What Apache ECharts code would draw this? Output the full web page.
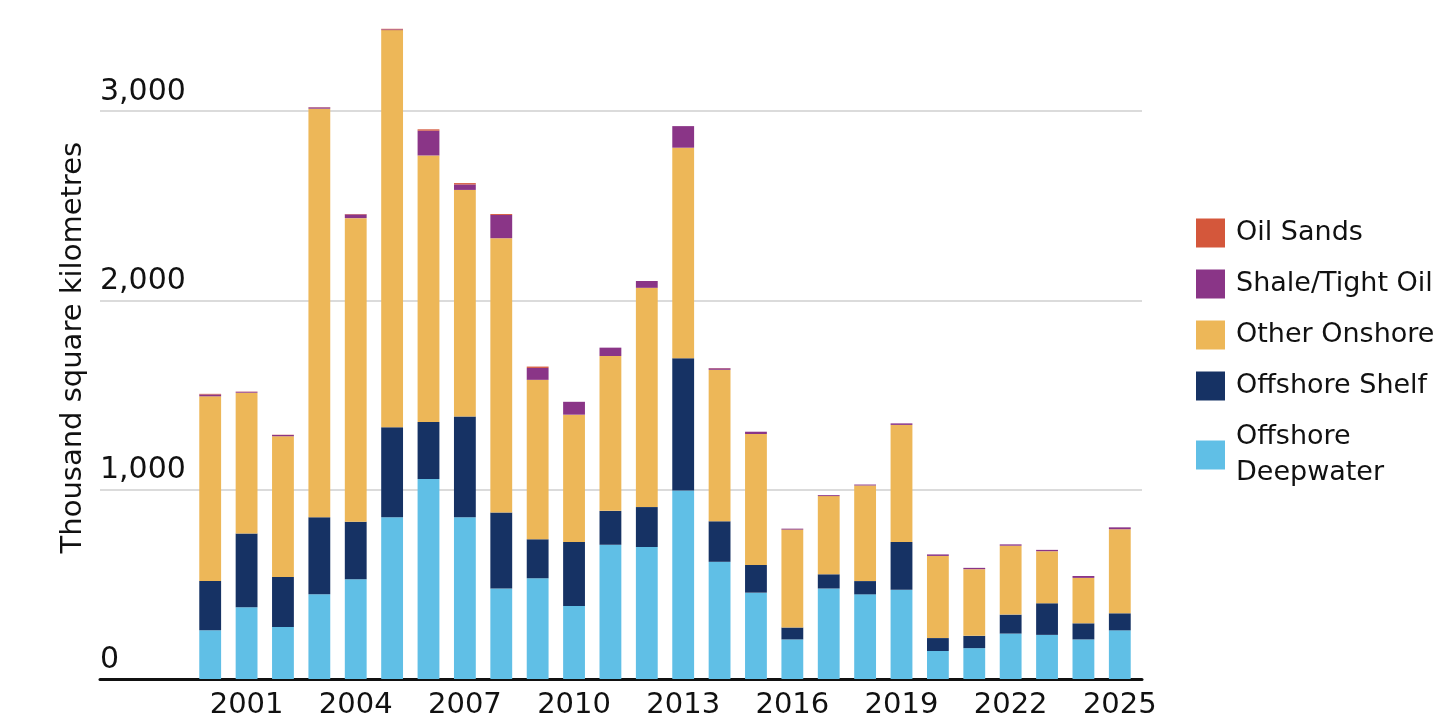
<!DOCTYPE html>
<html>
<head>
<meta charset="utf-8">
<script src="https://cdn.jsdelivr.net/npm/echarts@6/dist/echarts.min.js"></script>
<style>
html,body{margin:0;padding:0;background:#fff;}
#chart{width:1456px;height:728px;}
</style>
</head>
<body>
<div id="chart"></div>
<script>
const years = ['2000','2001','2002','2003','2004','2005','2006','2007','2008','2009','2010','2011','2012','2013','2014','2015','2016','2017','2018','2019','2020','2021','2022','2023','2024','2025'];
const offshoreDeepwater = [257,379,274,447,527,854,1056,854,478,532,386,709,697,995,619,456,209,478,447,471,148,163,240,233,209,257];
const offshoreShelf     = [260,390,265,407,303,476,301,532,401,206,337,179,211,699,214,146,63,75,70,252,68,65,100,167,85,90];
const otherOnshore      = [976,743,743,2158,1604,2097,1408,1197,1449,842,673,818,1158,1112,800,692,517,413,505,619,434,352,364,275,240,444];
const shaleTightOil     = [10,5,7,7,20,4,131,29,123,63,68,44,36,114,8,12,5,5,5,8,8,7,7,7,10,10];
const oilSands          = [3,1,1,1,2,3,7,7,5,7,0,0,0,0,1,0,0,0,0,0,0,0,0,0,0,0];
const yTicks = [0,1000,2000,3000];
const legendNames = ['Oil Sands','Shale/Tight Oil','Other Onshore','Offshore Shelf','Offshore Deepwater'];

const FONT = 'DejaVu Sans';
const colors = {
  'Offshore Deepwater':'#60BFE6',
  'Offshore Shelf':'#163264',
  'Other Onshore':'#EDB758',
  'Shale/Tight Oil':'#8A3587',
  'Oil Sands':'#D4573B'
};

const chart = echarts.init(document.getElementById('chart'));
function mk(name, data){
  return {name, type:'bar', stack:'total', xAxisIndex:1, yAxisIndex:1, data,
    barCategoryGap:'40%', itemStyle:{color:colors[name]}, emphasis:{disabled:true}};
}
chart.setOption({
  animation:false,
  textStyle:{fontFamily:FONT},
  grid:[
    {left:100, right:314, top:111, bottom:49},
    {left:192, right:318, top:16.3, bottom:49}
  ],
  legend:{
    orient:'vertical', left:1191, top:210,
    itemWidth:29, itemHeight:29, itemGap:15,
    icon:'rect',
    data:legendNames,
    formatter:function(n){ return n==='Offshore Deepwater' ? 'Offshore\nDeepwater' : n; },
    textStyle:{fontFamily:FONT, fontSize:27, color:'#111', lineHeight:36, padding:[0,0,0,6]}
  },
  xAxis:[
    {type:'value', gridIndex:0, min:0, max:1, axisLabel:{show:false}, axisTick:{show:false}, splitLine:{show:false},
      axisLine:{show:true, lineStyle:{color:'#111', width:3}}},
    {type:'category', gridIndex:1, data:years, boundaryGap:true,
      axisLine:{show:false}, axisTick:{show:false},
      axisLabel:{interval:function(i){return (i-1)%3===0;}, fontFamily:FONT, fontSize:29, color:'#111', margin:12}}
  ],
  yAxis:[
    {type:'value', gridIndex:0, min:0, max:3000, interval:1000,
      axisLine:{show:false}, axisTick:{show:false},
      axisLabel:{inside:true, margin:0, align:'left', verticalAlign:'bottom', padding:[0,0,4,0],
        fontFamily:FONT, fontSize:30, color:'#111',
        formatter:function(v){return v.toLocaleString('en-US');}},
      splitLine:{show:true, lineStyle:{color:'#cfcfcf', width:1.5}}},
    {type:'value', gridIndex:1, min:0, max:3500,
      axisLine:{show:false}, axisTick:{show:false}, axisLabel:{show:false}, splitLine:{show:false},
      name:'Thousand square kilometres', nameLocation:'middle', nameRotate:90, nameGap:104,
      nameTextStyle:{fontFamily:FONT, fontSize:29, color:'#111'}}
  ],
  series:[
    mk('Offshore Deepwater', offshoreDeepwater),
    mk('Offshore Shelf', offshoreShelf),
    mk('Other Onshore', otherOnshore),
    mk('Shale/Tight Oil', shaleTightOil),
    mk('Oil Sands', oilSands)
  ]
});
</script>
</body>
</html>
